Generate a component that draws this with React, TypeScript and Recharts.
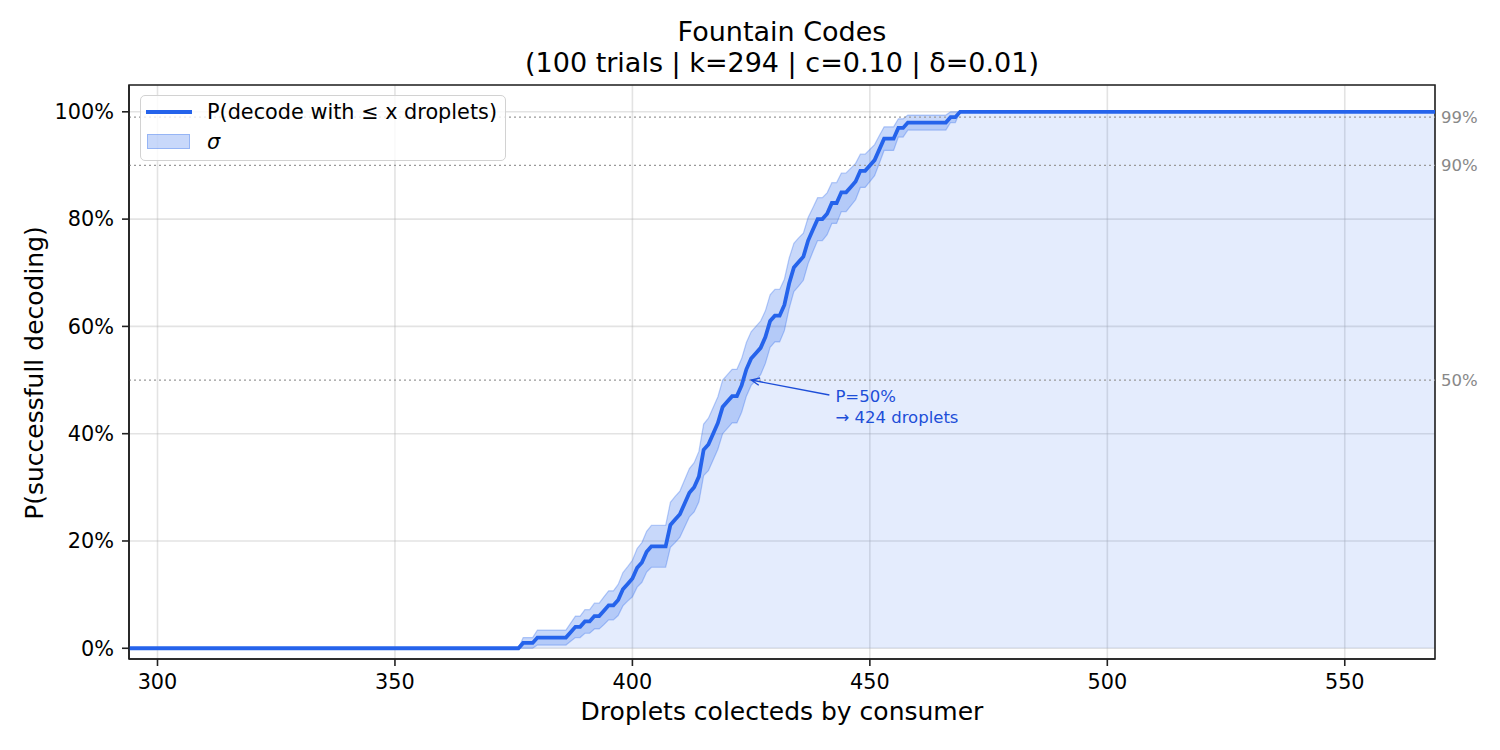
import React from "react";
import {
    ComposedChart,
    Line,
    Area,
    XAxis,
    YAxis,
    CartesianGrid,
    ReferenceLine,
    ReferenceArea,
    ReferenceDot,
} from "recharts";

// droplets collected (x) -> % of trials decoded, and 1 sigma band half-width (%)
const droplets = [
    294, 376, 377, 378, 379, 380, 381, 382, 383, 384, 385, 386, 387, 388, 389, 390,
    391, 392, 393, 394, 395, 396, 397, 398, 399, 400, 401, 402, 403, 404, 405, 406,
    407, 408, 409, 410, 411, 412, 413, 414, 415, 416, 417, 418, 419, 420, 421, 422,
    423, 424, 425, 426, 427, 428, 429, 430, 431, 432, 433, 434, 435, 436, 437, 438,
    439, 440, 441, 442, 443, 444, 445, 446, 447, 448, 449, 450, 451, 452, 453, 454,
    455, 456, 457, 458, 459, 460, 461, 462, 463, 464, 465, 466, 467, 468, 469, 470,
    569,
];
const pDecode = [
    0, 0, 1, 1, 1, 2, 2, 2, 2, 2, 2, 2, 3, 4, 4, 5,
    5, 6, 6, 7, 8, 8, 9, 11, 12, 13, 15, 16, 18, 19, 19, 19,
    19, 23, 24, 25, 27, 29, 30, 32, 37, 38, 40, 42, 45, 46, 47, 47,
    49, 52, 54, 55, 56, 58, 61, 62, 62, 64, 68, 71, 72, 73, 76, 78,
    80, 80, 81, 83, 83, 85, 85, 86, 87, 89, 89, 90, 91, 93, 95, 95,
    95, 97, 97, 98, 98, 98, 98, 98, 98, 98, 98, 98, 99, 99, 100, 100,
    100,
];
const sigma = [
    0, 0, 1.0, 1.0, 1.0, 1.4, 1.4, 1.4, 1.4, 1.4, 1.4, 1.4, 1.7, 2.0, 2.0, 2.2,
    2.2, 2.4, 2.4, 2.6, 2.7, 2.7, 2.9, 3.1, 3.2, 3.4, 3.6, 3.7, 3.8, 3.9, 3.9, 3.9,
    3.9, 4.2, 4.3, 4.3, 4.4, 4.5, 4.6, 4.7, 4.8, 4.9, 4.9, 4.9, 5.0, 5.0, 5.0, 5.0,
    5.0, 5.0, 5.0, 5.0, 5.0, 4.9, 4.9, 4.9, 4.9, 4.8, 4.7, 4.5, 4.5, 4.4, 4.3, 4.1,
    4.0, 4.0, 3.9, 3.8, 3.8, 3.6, 3.6, 3.5, 3.4, 3.1, 3.1, 3.0, 2.9, 2.6, 2.2, 2.2,
    2.2, 1.7, 1.7, 1.4, 1.4, 1.4, 1.4, 1.4, 1.4, 1.4, 1.4, 1.4, 1.0, 1.0, 0, 0,
    0,
];
const xTicks = [300, 350, 400, 450, 500, 550];
const yTicks = [0, 20, 40, 60, 80, 100];
const thresholds = [50, 90, 99];

const BLUE = "#2563eb";
const FONT = "'DejaVu Sans', sans-serif";

const rows = droplets.map((x, i) => ({
    x,
    p: pDecode[i],
    band: [Math.max(0, pDecode[i] - sigma[i]), Math.min(100, pDecode[i] + sigma[i])],
}));

const Annotation = (props: any) => {
    const { cx, cy } = props;
    const tipX = cx + 5;
    const tipY = cy;
    const tailX = cx + 83;
    const tailY = cy + 15;
    const ang = Math.atan2(tailY - tipY, tailX - tipX);
    const hl = 9;
    const a1 = ang + 0.42;
    const a2 = ang - 0.42;
    return (
        <g>
            <line x1={tailX} y1={tailY} x2={tipX} y2={tipY} stroke="#1d4ed8" strokeWidth={1.4} />
            <polyline
                points={`${tipX + hl * Math.cos(a1)},${tipY + hl * Math.sin(a1)} ${tipX},${tipY} ${tipX + hl * Math.cos(a2)},${tipY + hl * Math.sin(a2)}`}
                fill="none"
                stroke="#1d4ed8"
                strokeWidth={1.4}
            />
            <text x={cx + 89} y={cy + 22} fill="#1d4ed8" fontSize={16.5} fontFamily={FONT}>P=50%</text>
            <text x={cx + 89} y={cy + 43} fill="#1d4ed8" fontSize={16.5} fontFamily={FONT}>→ 424 droplets</text>
        </g>
    );
};

const App: React.FC = () => {
    return (
        <div style={{ position: "absolute", left: 0, top: 0, width: 1500, height: 750, fontFamily: FONT, background: "#fff" }}>
            <ComposedChart
                width={1500}
                height={750}
                data={rows}
                margin={{ top: 85, right: 65, bottom: 51, left: 49 }}
            >
                <CartesianGrid stroke="#b0b0b0" strokeOpacity={0.35} strokeWidth={1.6} />
                <XAxis
                    dataKey="x"
                    type="number"
                    domain={[294, 569]}
                    ticks={xTicks}
                    allowDataOverflow
                    height={40}
                    tickSize={7}
                    tickMargin={8}
                    tick={{ fontSize: 20.8, fill: "#000" }}
                    tickLine={{ stroke: "#222", strokeWidth: 1.6 }}
                    axisLine={{ stroke: "#222", strokeWidth: 1.6 }}
                />
                <YAxis
                    type="number"
                    domain={[-2, 105]}
                    ticks={yTicks}
                    allowDataOverflow
                    width={80}
                    tickSize={7}
                    tickMargin={8}
                    tickFormatter={(v) => `${v}%`}
                    tick={{ fontSize: 20.8, fill: "#000" }}
                    tickLine={{ stroke: "#222", strokeWidth: 1.6 }}
                    axisLine={{ stroke: "#222", strokeWidth: 1.6 }}
                />
                <Area
                    type="linear"
                    dataKey="p"
                    baseValue={0}
                    fill={BLUE}
                    fillOpacity={0.12}
                    stroke="none"
                    isAnimationActive={false}
                />
                <Area
                    type="linear"
                    dataKey="band"
                    fill={BLUE}
                    fillOpacity={0.25}
                    stroke={BLUE}
                    strokeOpacity={0.3}
                    strokeWidth={1.2}
                    isAnimationActive={false}
                />
                {thresholds.map((t) => (
                    <ReferenceLine
                        key={t}
                        y={t}
                        stroke="#999"
                        strokeWidth={1.2}
                        strokeDasharray="2 3"
                        label={{ value: `${t}%`, position: "right", fill: "#888", fontSize: 16.5, offset: 6 }}
                    />
                ))}
                <Line
                    type="linear"
                    dataKey="p"
                    stroke={BLUE}
                    strokeWidth={3.8}
                    dot={false}
                    isAnimationActive={false}
                />
                <ReferenceDot x={424} y={50} r={0} shape={Annotation} />
                <ReferenceArea x1={294} x2={569} y1={-2} y2={105} fill="none" fillOpacity={0} stroke="#222" strokeWidth={1.6} />
            </ComposedChart>

            <div style={{ position: "absolute", left: 129, width: 1306, top: 16, textAlign: "center", fontSize: 27, lineHeight: "31px", color: "#000" }}>
                Fountain Codes
                <br />
                (100 trials | k=294 | c=0.10 | δ=0.01)
            </div>
            <div style={{ position: "absolute", left: 129, width: 1306, top: 698, textAlign: "center", fontSize: 25, lineHeight: "28px" }}>
                Droplets colecteds by consumer
            </div>
            <div
                style={{
                    position: "absolute",
                    left: 35,
                    top: 373,
                    transform: "translate(-50%, -50%) rotate(-90deg)",
                    whiteSpace: "nowrap",
                    fontSize: 25,
                    lineHeight: "28px",
                }}
            >
                P(successfull decoding)
            </div>

            <div
                style={{
                    position: "absolute",
                    left: 140,
                    top: 95,
                    width: 366,
                    height: 66,
                    boxSizing: "border-box",
                    border: "1.5px solid #d2d2d2",
                    borderRadius: 5,
                    background: "rgba(255,255,255,0.8)",
                }}
            >
                <div style={{ position: "absolute", left: 5, top: 14, width: 46, height: 3.8, background: BLUE }} />
                <div style={{ position: "absolute", left: 66, top: 3, fontSize: 20.8, lineHeight: "26px", whiteSpace: "nowrap" }}>
                    P(decode with ≤ x droplets)
                </div>
                <div
                    style={{
                        position: "absolute",
                        left: 6,
                        top: 38,
                        width: 43,
                        height: 15,
                        boxSizing: "border-box",
                        background: "rgba(37,99,235,0.25)",
                        border: "1.2px solid rgba(37,99,235,0.3)",
                    }}
                />
                <div style={{ position: "absolute", left: 66, top: 33, fontSize: 20.8, lineHeight: "26px", fontStyle: "italic" }}>
                    σ
                </div>
            </div>
        </div>
    );
};

export default App;
